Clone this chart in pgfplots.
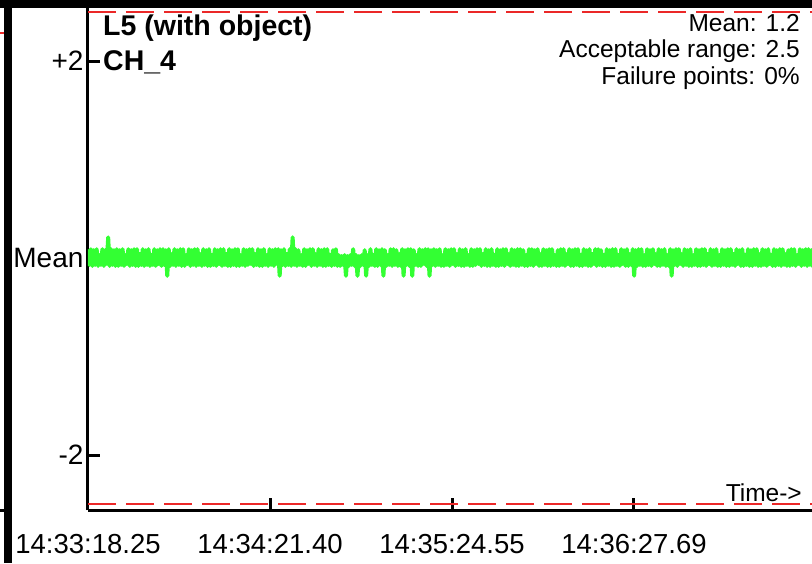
\documentclass[border=0pt]{standalone}
\usepackage{fontspec}
\setmainfont{Liberation Sans}
\usepackage{pgfplots}
\pgfplotsset{compat=1.18}
\definecolor{sig}{RGB}{51,255,51}
\definecolor{lim}{RGB}{235,40,40}
\begin{document}
\begin{tikzpicture}
\useasboundingbox (0pt,0pt) rectangle (812pt,563pt);
\begin{axis}[
  at={(88pt,53pt)}, anchor=south west,
  scale only axis, width=724pt, height=510pt,
  xmin=0, xmax=251.2, ymin=-2.558, ymax=2.62,
  axis x line*=bottom, axis y line*=left,
  axis line style={line width=3pt, -},
  xtick={0,63.15,126.3,189.44},
  xticklabels={14:33:18.25,14:34:21.40,14:35:24.55,14:36:27.69},
  ytick={-2,0,2}, yticklabels={{-2},{Mean},{+2}},
  tick align=inside, major tick length=12pt,
  tick style={line width=3pt, black},
  xticklabel style={font=\fontsize{27.5}{30}\selectfont, yshift=-21pt},
  yticklabel style={font=\fontsize{28}{30}\selectfont, xshift=-1pt},
  clip=true,
]
\addplot[lim, line width=2pt, dash pattern=on 28pt off 10pt] coordinates {(0,2.5)(251.2,2.5)};
\addplot[lim, line width=2pt, dash pattern=on 28pt off 10pt] coordinates {(0,-2.5)(251.2,-2.5)};
\addplot[sig, line width=4pt, line join=round, line cap=round] coordinates {
(0,0.07)(0.5,-0.07)(1,0.09)(1.5,-0.08)(2,0.08)(2.5,-0.07)(3,0.09)(3.5,-0.08)(4,0.03)(4.5,-0.07)(5,0.09)(5.5,-0.08)(6,0.08)(6.5,-0.06)(7,0.21)(7.5,-0.08)(8,0.09)(8.5,-0.07)(9,0.08)(9.5,-0.08)
(10,0.09)(10.5,-0.08)(11,0.08)(11.5,-0.07)(12,0.09)(12.5,-0.08)(13,0.03)(13.5,-0.06)(14,0.09)(14.5,-0.08)(15,0.08)(15.5,-0.07)(16,0.09)(16.5,-0.08)(17,0.09)(17.5,-0.08)(18,0.04)(18.5,-0.07)(19,0.09)(19.5,-0.08)
(20,0.08)(20.5,-0.07)(21,0.09)(21.5,-0.08)(22,0.03)(22.5,-0.07)(23,0.09)(23.5,-0.08)(24,0.08)(24.5,-0.06)(25,0.09)(25.5,-0.08)(26,0.09)(26.5,-0.07)(27,0.08)(27.5,-0.18)(28,0.09)(28.5,-0.08)(29,0.04)(29.5,-0.07)
(30,0.09)(30.5,-0.08)(31,0.08)(31.5,-0.07)(32,0.09)(32.5,-0.08)(33,0.09)(33.5,-0.08)(34,0.03)(34.5,-0.06)(35,0.09)(35.5,-0.08)(36,0.08)(36.5,-0.07)(37,0.09)(37.5,-0.08)(38,0.09)(38.5,-0.07)(39,0.04)(39.5,-0.08)
(40,0.09)(40.5,-0.07)(41,0.08)(41.5,-0.08)(42,0.09)(42.5,-0.08)(43,0.03)(43.5,-0.07)(44,0.09)(44.5,-0.08)(45,0.08)(45.5,-0.06)(46,0.09)(46.5,-0.08)(47,0.09)(47.5,-0.07)(48,0.04)(48.5,-0.08)(49,0.09)(49.5,-0.08)
(50,0.08)(50.5,-0.07)(51,0.09)(51.5,-0.08)(52,0.09)(52.5,-0.08)(53,0.03)(53.5,-0.07)(54,0.09)(54.5,-0.08)(55,0.08)(55.5,-0.07)(56,0.09)(56.5,-0.06)(57,0.09)(57.5,-0.08)(58,0.04)(58.5,-0.07)(59,0.09)(59.5,-0.08)
(60,0.08)(60.5,-0.08)(61,0.09)(61.5,-0.07)(62,0.03)(62.5,-0.08)(63,0.09)(63.5,-0.07)(64,0.08)(64.5,-0.08)(65,0.09)(65.5,-0.06)(66,0.09)(66.5,-0.18)(67,0.08)(67.5,-0.07)(68,0.09)(68.5,-0.08)(69,0.04)(69.5,-0.07)
(70,0.09)(70.5,-0.08)(71,0.21)(71.5,-0.07)(72,0.09)(72.5,-0.08)(73,0.08)(73.5,-0.07)(74,0.03)(74.5,-0.08)(75,0.09)(75.5,-0.08)(76,0.08)(76.5,-0.06)(77,0.09)(77.5,-0.08)(78,0.09)(78.5,-0.07)(79,0.04)(79.5,-0.08)
(80,0.09)(80.5,-0.07)(81,0.08)(81.5,-0.08)(82,0.09)(82.5,-0.08)(83,0.09)(83.5,-0.07)(84,0.03)(84.5,-0.08)(85,0.08)(85.5,-0.07)(86,0.09)(86.5,-0.08)(87,0.03)(87.5,-0.08)(88,0.02)(88.5,-0.07)(89,0.03)(89.5,-0.18)
(90,0.02)(90.5,-0.08)(91,0.03)(91.5,-0.07)(92,0.09)(92.5,-0.08)(93,0.03)(93.5,-0.18)(94,0.02)(94.5,-0.08)(95,0.03)(95.5,-0.07)(96,0.08)(96.5,-0.18)(97,0.03)(97.5,-0.08)(98,0.09)(98.5,-0.07)(99,0.03)(99.5,-0.08)
(100,0.09)(100.5,-0.08)(101,0.08)(101.5,-0.07)(102,0.09)(102.5,-0.18)(103,0.08)(103.5,-0.08)(104,0.03)(104.5,-0.07)(105,0.09)(105.5,-0.08)(106,0.09)(106.5,-0.07)(107,0.08)(107.5,-0.08)(108,0.04)(108.5,-0.08)(109,0.09)(109.5,-0.18)
(110,0.08)(110.5,-0.07)(111,0.09)(111.5,-0.08)(112,0.09)(112.5,-0.18)(113,0.08)(113.5,-0.07)(114,0.03)(114.5,-0.08)(115,0.09)(115.5,-0.08)(116,0.08)(116.5,-0.06)(117,0.09)(117.5,-0.08)(118,0.09)(118.5,-0.18)(119,0.08)(119.5,-0.07)
(120,0.09)(120.5,-0.08)(121,0.08)(121.5,-0.07)(122,0.09)(122.5,-0.08)(123,0.03)(123.5,-0.08)(124,0.09)(124.5,-0.07)(125,0.08)(125.5,-0.08)(126,0.09)(126.5,-0.06)(127,0.09)(127.5,-0.08)(128,0.04)(128.5,-0.07)(129,0.09)(129.5,-0.08)
(130,0.08)(130.5,-0.08)(131,0.09)(131.5,-0.07)(132,0.03)(132.5,-0.08)(133,0.09)(133.5,-0.08)(134,0.08)(134.5,-0.07)(135,0.09)(135.5,-0.06)(136,0.09)(136.5,-0.08)(137,0.04)(137.5,-0.07)(138,0.09)(138.5,-0.08)(139,0.08)(139.5,-0.08)
(140,0.09)(140.5,-0.07)(141,0.03)(141.5,-0.08)(142,0.09)(142.5,-0.08)(143,0.08)(143.5,-0.07)(144,0.09)(144.5,-0.08)(145,0.09)(145.5,-0.06)(146,0.04)(146.5,-0.08)(147,0.09)(147.5,-0.07)(148,0.08)(148.5,-0.08)(149,0.09)(149.5,-0.08)
(150,0.09)(150.5,-0.07)(151,0.08)(151.5,-0.08)(152,0.03)(152.5,-0.08)(153,0.09)(153.5,-0.07)(154,0.09)(154.5,-0.08)(155,0.08)(155.5,-0.06)(156,0.09)(156.5,-0.08)(157,0.04)(157.5,-0.08)(158,0.09)(158.5,-0.07)(159,0.08)(159.5,-0.08)
(160,0.09)(160.5,-0.08)(161,0.09)(161.5,-0.07)(162,0.03)(162.5,-0.08)(163,0.08)(163.5,-0.08)(164,0.09)(164.5,-0.07)(165,0.09)(165.5,-0.08)(166,0.04)(166.5,-0.06)(167,0.09)(167.5,-0.08)(168,0.08)(168.5,-0.08)(169,0.09)(169.5,-0.07)
(170,0.09)(170.5,-0.08)(171,0.03)(171.5,-0.08)(172,0.09)(172.5,-0.07)(173,0.08)(173.5,-0.08)(174,0.09)(174.5,-0.08)(175,0.04)(175.5,-0.06)(176,0.09)(176.5,-0.08)(177,0.09)(177.5,-0.07)(178,0.08)(178.5,-0.08)(179,0.03)(179.5,-0.08)
(180,0.09)(180.5,-0.07)(181,0.08)(181.5,-0.08)(182,0.09)(182.5,-0.08)(183,0.09)(183.5,-0.07)(184,0.03)(184.5,-0.08)(185,0.09)(185.5,-0.06)(186,0.08)(186.5,-0.08)(187,0.09)(187.5,-0.08)(188,0.04)(188.5,-0.07)(189,0.09)(189.5,-0.18)
(190,0.08)(190.5,-0.08)(191,0.09)(191.5,-0.07)(192,0.09)(192.5,-0.08)(193,0.03)(193.5,-0.08)(194,0.09)(194.5,-0.07)(195,0.08)(195.5,-0.08)(196,0.09)(196.5,-0.06)(197,0.04)(197.5,-0.08)(198,0.09)(198.5,-0.08)(199,0.08)(199.5,-0.07)
(200,0.09)(200.5,-0.08)(201,0.03)(201.5,-0.08)(202,0.09)(202.5,-0.18)(203,0.08)(203.5,-0.07)(204,0.09)(204.5,-0.08)(205,0.09)(205.5,-0.06)(206,0.04)(206.5,-0.08)(207,0.09)(207.5,-0.07)(208,0.08)(208.5,-0.08)(209,0.09)(209.5,-0.08)
(210,0.03)(210.5,-0.07)(211,0.09)(211.5,-0.08)(212,0.08)(212.5,-0.08)(213,0.09)(213.5,-0.07)(214,0.09)(214.5,-0.08)(215,0.04)(215.5,-0.06)(216,0.09)(216.5,-0.08)(217,0.08)(217.5,-0.07)(218,0.09)(218.5,-0.08)(219,0.03)(219.5,-0.08)
(220,0.09)(220.5,-0.07)(221,0.08)(221.5,-0.08)(222,0.09)(222.5,-0.08)(223,0.09)(223.5,-0.07)(224,0.04)(224.5,-0.08)(225,0.09)(225.5,-0.06)(226,0.08)(226.5,-0.08)(227,0.09)(227.5,-0.08)(228,0.03)(228.5,-0.07)(229,0.09)(229.5,-0.08)
(230,0.08)(230.5,-0.08)(231,0.09)(231.5,-0.07)(232,0.09)(232.5,-0.08)(233,0.04)(233.5,-0.08)(234,0.09)(234.5,-0.07)(235,0.08)(235.5,-0.08)(236,0.09)(236.5,-0.06)(237,0.03)(237.5,-0.08)(238,0.09)(238.5,-0.08)(239,0.08)(239.5,-0.07)
(240,0.09)(240.5,-0.08)(241,0.09)(241.5,-0.07)(242,0.04)(242.5,-0.08)(243,0.08)(243.5,-0.08)(244,0.09)(244.5,-0.07)(245,0.09)(245.5,-0.08)(246,0.03)(246.5,-0.06)(247,0.09)(247.5,-0.08)(248,0.08)(248.5,-0.07)(249,0.09)(249.5,-0.08)
(250,0.09)(250.5,-0.07)(251,0.08)(251.5,-0.08)
};
\end{axis}
\fill[black] (0pt,555pt) rectangle (812pt,563pt);
\fill[black] (4pt,0pt) rectangle (12pt,563pt);
\draw[lim, line width=2pt] (0pt,530pt) -- (4pt,530pt);
\draw[black, line width=3pt] (0pt,53pt) -- (4pt,53pt);
\node[anchor=base west, inner sep=0pt, font=\fontsize{28.5}{30}\selectfont\bfseries] at (103pt,527pt) {L5 (with object)};
\node[anchor=base west, inner sep=0pt, font=\fontsize{28.5}{30}\selectfont\bfseries] at (103pt,492pt) {CH\_4};
\node[anchor=base east, inner sep=0pt, font=\fontsize{24.5}{28}\selectfont] at (800pt,531pt) {Mean: 1.2};
\node[anchor=base east, inner sep=0pt, font=\fontsize{24.5}{28}\selectfont] at (800pt,505pt) {Acceptable range: 2.5};
\node[anchor=base east, inner sep=0pt, font=\fontsize{24.5}{28}\selectfont] at (800pt,478pt) {Failure points: 0\%};
\node[anchor=base east, inner sep=0pt, font=\fontsize{24.5}{28}\selectfont] at (802pt,62pt) {Time->};
\end{tikzpicture}
\end{document}
